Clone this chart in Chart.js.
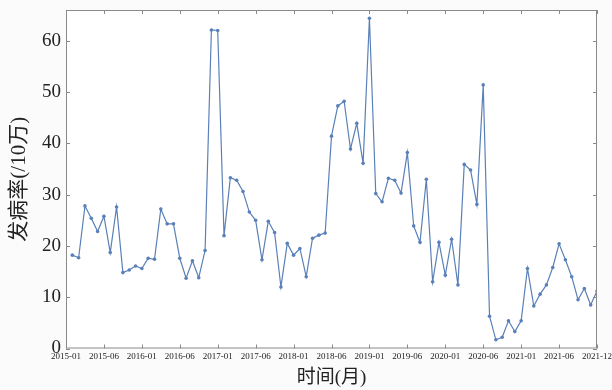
<!DOCTYPE html>
<html>
<head>
<meta charset="utf-8">
<script src="https://cdn.jsdelivr.net/npm/chart.js@4"></script>
<style>
  html, body { margin: 0; padding: 0; background: #fbfbfb; }
  #wrap { width: 612px; height: 390px; }
</style>
</head>
<body>
<div id="wrap"><canvas id="rateChart" width="612" height="390"></canvas></div>
<script>
// monthly incidence, 2015-01 .. 2021-12 (84 months)
const rates = [
    18.2, 17.7, 27.8, 25.4, 22.8, 25.8, 18.7, 27.6, 14.8, 15.3, 16.1, 15.6,
    17.6, 17.4, 27.2, 24.3, 24.3, 17.6, 13.7, 17.1, 13.8, 19.1, 62.1, 62.0,
    22.0, 33.3, 32.8, 30.6, 26.6, 25.0, 17.3, 24.8, 22.6, 12.0, 20.5, 18.2,
    19.5, 14.0, 21.5, 22.1, 22.5, 41.4, 47.3, 48.2, 38.9, 43.9, 36.1, 64.4,
    30.2, 28.6, 33.2, 32.8, 30.3, 38.2, 23.9, 20.7, 33.0, 13.0, 20.7, 14.3,
    21.3, 12.4, 35.9, 34.8, 28.1, 51.4, 6.3, 1.7, 2.2, 5.4, 3.3, 5.4,
    15.6, 8.3, 10.6, 12.4, 15.8, 20.4, 17.3, 14.0, 9.5, 11.7, 8.5, 11.2
];

const tickLabels = ['2015-01', '2015-06', '2016-01', '2016-06', '2017-01', '2017-06', '2018-01',
    '2018-06', '2019-01', '2019-06', '2020-01', '2020-06', '2021-01', '2021-06', '2021-12'];

const yTitle = '发病率(/10万)';
const xTitle = '时间(月)';

const lineColor = '#5a80b8';
const frameColor = '#8a8a8a';
const serif = '"Liberation Serif", "Times New Roman", "Noto Sans CJK SC", serif';

// box around the plot with inward tick marks on all four sides
const framePlugin = {
    id: 'frame',
    afterDraw(chart) {
        const { ctx, chartArea: a, scales } = chart;
        const len = 4;
        ctx.save();
        ctx.strokeStyle = frameColor;
        ctx.lineWidth = 1;
        ctx.strokeRect(a.left + 0.5, a.top + 0.5, a.right - a.left - 1, a.bottom - a.top - 1);
        ctx.beginPath();
        scales.x.ticks.forEach(function(t) {
            const px = Math.round(scales.x.getPixelForValue(t.value)) + 0.5;
            ctx.moveTo(px, a.bottom); ctx.lineTo(px, a.bottom - len);
            ctx.moveTo(px, a.top); ctx.lineTo(px, a.top + len);
        });
        scales.y.ticks.forEach(function(t) {
            const py = Math.round(scales.y.getPixelForValue(t.value)) + 0.5;
            ctx.moveTo(a.left, py); ctx.lineTo(a.left + len, py);
            ctx.moveTo(a.right, py); ctx.lineTo(a.right - len, py);
        });
        ctx.stroke();
        ctx.restore();
    }
};

const plotBg = {
    id: 'plotBg',
    beforeDraw(chart) {
        const { ctx, chartArea: a } = chart;
        ctx.save();
        ctx.fillStyle = '#ffffff';
        ctx.fillRect(a.left, a.top, a.right - a.left, a.bottom - a.top);
        ctx.restore();
    }
};

new Chart(document.getElementById('rateChart'), {
    type: 'line',
    data: {
        datasets: [{
            data: rates.map(function(v, i) { return { x: i + 1, y: v }; }),
            borderColor: lineColor,
            backgroundColor: lineColor,
            borderWidth: 1.2,
            pointRadius: 1.8,
            pointBorderWidth: 0,
            tension: 0,
            fill: false
        }]
    },
    options: {
        responsive: false,
        animation: false,
        layout: { padding: { top: 10, right: 15, left: 0, bottom: 0 } },
        plugins: { legend: { display: false }, tooltip: { enabled: false } },
        scales: {
            x: {
                type: 'linear',
                min: 0,
                max: 84,
                grid: { display: false, drawTicks: false },
                border: { display: false },
                ticks: {
                    stepSize: 6,
                    autoSkip: false,
                    maxRotation: 0,
                    padding: 3,
                    color: '#222',
                    font: { family: serif, size: 9 },
                    callback: function(v) { return tickLabels[Math.round(v / 6)]; }
                },
                title: {
                    display: true,
                    text: xTitle,
                    color: '#222',
                    font: { family: serif, size: 19 },
                    padding: { top: 0, bottom: 1 }
                },
                afterFit: function(scale) {
                    scale.height = 41.5;
                    scale.paddingLeft = 0;
                    scale.paddingRight = 0;
                }
            },
            y: {
                min: 0,
                max: 66,
                grid: { display: false, drawTicks: false },
                border: { display: false },
                ticks: {
                    stepSize: 10,
                    includeBounds: false,
                    padding: 5,
                    color: '#222',
                    font: { family: serif, size: 19 }
                },
                title: {
                    display: true,
                    text: yTitle,
                    color: '#222',
                    font: { family: serif, size: 21 },
                    padding: { top: 7, bottom: 0 }
                },
                afterFit: function(scale) {
                    scale.width = 66;
                    scale.paddingTop = 0;
                    scale.paddingBottom = 0;
                }
            }
        }
    },
    plugins: [plotBg, framePlugin]
});
</script>
</body>
</html>
